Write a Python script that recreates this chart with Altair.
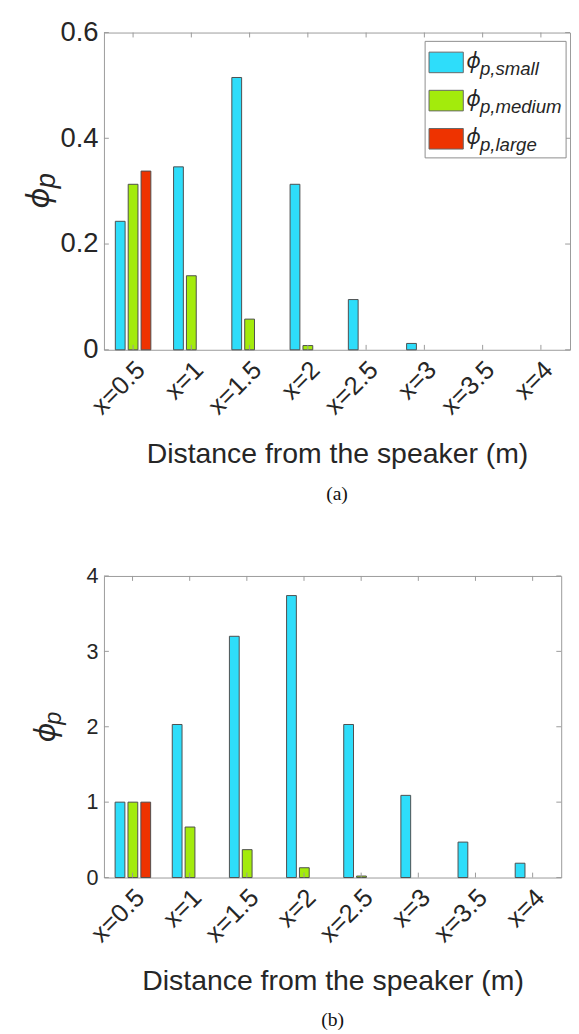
import altair as alt
import pandas as pd

categories = ["x=0.5", "x=1", "x=1.5", "x=2", "x=2.5", "x=3", "x=3.5", "x=4"]
series = ["small", "medium", "large"]
series_labels = ["p,small", "p,medium", "p,large"]
colors = ["#2EDDFA", "#A3EB0C", "#EE3300"]

a_small = [0.243, 0.346, 0.515, 0.313, 0.095, 0.012, 0.0, 0.0]
a_medium = [0.313, 0.140, 0.058, 0.008, 0.0, 0.0, 0.0, 0.0]
a_large = [0.338, 0.0, 0.0, 0.0, 0.0, 0.0, 0.0, 0.0]
a_yticks = [0, 0.2, 0.4, 0.6]

b_small = [1.0, 2.03, 3.20, 3.74, 2.03, 1.09, 0.47, 0.19]
b_medium = [1.0, 0.67, 0.37, 0.13, 0.02, 0.0, 0.0, 0.0]
b_large = [1.0, 0.0, 0.0, 0.0, 0.0, 0.0, 0.0, 0.0]
b_yticks = [0, 1, 2, 3, 4]

FONT = "Liberation Sans"
PHI_FONT = "Noto Sans, DejaVu Sans"
TXT = "#262626"
AX = "#9a9a9a"


def long_df(small, medium, large):
    rows = []
    for i, c in enumerate(categories):
        for s, vals in zip(series, [small, medium, large]):
            rows.append({"cat": c, "series": s, "value": vals[i]})
    return pd.DataFrame(rows)


def panel(small, medium, large, yticks, ymax, caption, w, h, ylab_size, legend,
          ytx, yty, phi_size, p_size, p_dy, cap_offset):
    df = long_df(small, medium, large)
    xscale = alt.Scale(domain=categories, paddingInner=0.39, paddingOuter=0.195)
    yscale = alt.Scale(domain=[0, ymax], nice=False, zero=True)
    xaxis = alt.Axis(
        title="Distance from the speaker (m)", labelAngle=-45, labelAlign="right",
        labelBaseline="middle", ticks=False, domain=False, labelPadding=16, labelOffset=8,
        labelFontSize=26, labelFont=FONT, labelColor=TXT, titleFont=FONT,
        titleFontSize=29, titleFontWeight="normal", titleColor=TXT, titlePadding=21,
    )
    yaxis = alt.Axis(
        title=None, values=yticks, format="~g", ticks=False, domain=False, grid=False,
        labelFontSize=ylab_size, labelFont=FONT, labelColor=TXT, labelPadding=6,
    )
    bars = alt.Chart(df).mark_bar(strokeWidth=1, stroke="#4d4d4d").encode(
        x=alt.X("cat:N", sort=categories, scale=xscale, axis=xaxis),
        xOffset=alt.XOffset("series:N", sort=series,
                            scale=alt.Scale(domain=series, paddingInner=0.24, paddingOuter=0)),
        y=alt.Y("value:Q", scale=yscale, axis=yaxis),
        color=alt.Color("series:N", scale=alt.Scale(domain=series, range=colors), legend=None),
        strokeOpacity=alt.condition("datum.value > 0", alt.value(1), alt.value(0)),
    )
    cat_df = pd.DataFrame({"cat": categories})
    xt_bottom = alt.Chart(cat_df).mark_rule(color=AX, strokeWidth=1).encode(
        x=alt.X("cat:N", sort=categories, scale=xscale, axis=None),
        y=alt.value(h), y2=alt.value(h - 5),
    )
    xt_top = alt.Chart(cat_df).mark_rule(color=AX, strokeWidth=1).encode(
        x=alt.X("cat:N", sort=categories, scale=xscale, axis=None),
        y=alt.value(0), y2=alt.value(5),
    )
    yt_df = pd.DataFrame({"v": yticks})
    yt_left = alt.Chart(yt_df).mark_rule(color=AX, strokeWidth=1).encode(
        y=alt.Y("v:Q", scale=yscale, axis=None), x=alt.value(0), x2=alt.value(5),
    )
    yt_right = alt.Chart(yt_df).mark_rule(color=AX, strokeWidth=1).encode(
        y=alt.Y("v:Q", scale=yscale, axis=None), x=alt.value(w - 5), x2=alt.value(w),
    )
    one = pd.DataFrame({"k": [0]})
    ytitle_phi = alt.Chart(one).mark_text(
        text="ϕ", font=PHI_FONT, fontStyle="italic", fontSize=phi_size, angle=270,
        align="center", baseline="alphabetic", color=TXT,
    ).encode(x=alt.value(ytx), y=alt.value(yty))
    ytitle_p = alt.Chart(one).mark_text(
        text="p", font=FONT, fontStyle="italic", fontSize=p_size, angle=270,
        align="left", baseline="alphabetic", color=TXT,
    ).encode(x=alt.value(ytx + 6), y=alt.value(yty - p_dy))
    layers = [bars, xt_bottom, xt_top, yt_left, yt_right, ytitle_phi, ytitle_p]
    if legend:
        bx0, bx1, by0, by1 = 328, 472, 9, 128
        box = alt.Chart(one).mark_rect(
            fill="white", stroke="#8c8c8c", strokeWidth=1
        ).encode(x=alt.value(bx0), x2=alt.value(bx1), y=alt.value(by0), y2=alt.value(by1))
        leg_df = pd.DataFrame({"series": series, "label": series_labels, "idx": [0, 1, 2]})
        base = alt.Chart(leg_df).transform_calculate(
            sy="20 + 39 * datum.idx", sy2="41 + 39 * datum.idx",
            ty="36 + 39 * datum.idx", ly="43 + 39 * datum.idx",
            sx="332", sx2="367", tx="370", lx="384",
        )
        sym = base.mark_rect(stroke="#666666", strokeWidth=1).encode(
            x=alt.X("sx:Q", scale=None), x2="sx2:Q",
            y=alt.Y("sy:Q", scale=None), y2="sy2:Q",
            color=alt.Color("series:N", scale=alt.Scale(domain=series, range=colors), legend=None),
        )
        phi = base.mark_text(text="ϕ", font=PHI_FONT, fontStyle="italic", fontSize=22,
                             align="left", baseline="alphabetic", color=TXT).encode(
            x=alt.X("tx:Q", scale=None), y=alt.Y("ty:Q", scale=None),
        )
        lab = base.mark_text(font=FONT, fontStyle="italic", fontSize=19, align="left",
                             baseline="alphabetic", color=TXT).encode(
            x=alt.X("lx:Q", scale=None), y=alt.Y("ly:Q", scale=None), text="label:N",
        )
        layers += [box, sym, phi, lab]
    ch = alt.layer(*layers).resolve_scale(x="independent", y="independent", color="independent")
    return ch.properties(
        width=w, height=h,
        title=alt.TitleParams(caption, orient="bottom", font="Liberation Serif", fontSize=20,
                              fontWeight="normal", color="#111111", offset=cap_offset,
                              anchor="middle"),
    )


pa = panel(a_small, a_medium, a_large, a_yticks, 0.6, "(a)", 476, 324, 28, True,
           -56, 169, 32, 28, 10, 17)
pb = panel(b_small, b_medium, b_large, b_yticks, 4, "(b)", 467, 308, 22, False,
           -50, 160, 30, 24, 8, 15)

chart = alt.vconcat(pa, pb, spacing=60).properties(
    padding={"left": 15, "top": -1, "right": 0, "bottom": 5}
).configure_view(stroke=AX, strokeWidth=1)

chart.save("out.html", embed_options={"renderer": "svg", "actions": False})
